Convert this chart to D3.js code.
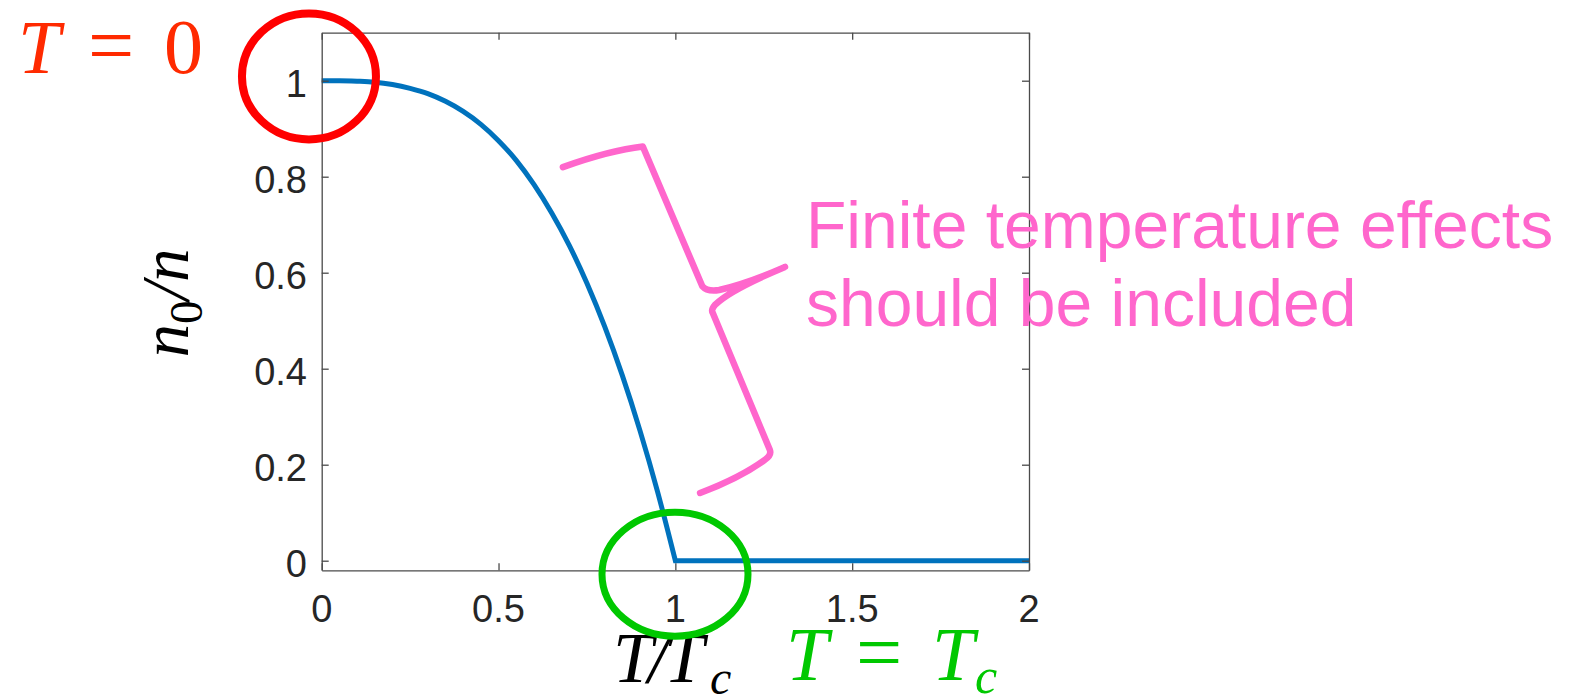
<!DOCTYPE html>
<html>
<head>
<meta charset="utf-8">
<script src="https://cdn.jsdelivr.net/npm/d3@7"></script>
<style>
  html, body { margin: 0; padding: 0; background: #fff; }
  svg { display: block; }
  .tick-label { font-family: "Liberation Sans", Arial, Helvetica, sans-serif; font-size: 38px; fill: #262626; }
  .math { font-family: "Liberation Serif", "Times New Roman", serif; font-style: italic; }
  .upright { font-family: "Liberation Serif", "Times New Roman", serif; font-style: normal; }
</style>
</head>
<body>
<svg id="chart" width="1571" height="698"></svg>
<script>
// Condensate fraction n0/n versus reduced temperature T/Tc
const temperature = [0, 0.05, 0.1, 0.15, 0.2, 0.25, 0.3, 0.35, 0.4, 0.45, 0.5,
                     0.55, 0.6, 0.65, 0.7, 0.75, 0.8, 0.85, 0.9, 0.95, 1.0, 1.5, 2.0];
const fraction    = [1.000, 1.000, 0.999, 0.997, 0.992, 0.984, 0.973, 0.957, 0.936, 0.909, 0.875,
                     0.834, 0.784, 0.725, 0.657, 0.578, 0.488, 0.386, 0.271, 0.143, 0.000, 0.000, 0.000];

const xTicks = [0, 0.5, 1, 1.5, 2];
const xTickLabels = ["0", "0.5", "1", "1.5", "2"];
const yTicks = [0, 0.2, 0.4, 0.6, 0.8, 1];
const yTickLabels = ["0", "0.2", "0.4", "0.6", "0.8", "1"];

// Brace annotation (data coordinates): M, Q, L commands
const braceX = [0.682, 0.815, 0.908, 1.076, 1.09, 1.124, 1.209, 1.310, 1.154, 1.112, 1.100, 1.106, 1.267, 1.273, 1.253, 1.182, 1.070];
const braceY = [0.820, 0.855, 0.863, 0.572, 0.560, 0.564, 0.579, 0.612, 0.564, 0.533, 0.522, 0.516, 0.231, 0.220, 0.210, 0.172, 0.141];
const braceCmd = ["M", "Q", "", "L", "Q", "", "Q", "", "Q", "", "Q", "", "L", "Q", "", "Q", ""];

const svg = d3.select("#chart");

const x = d3.scaleLinear().domain([0, 2]).range([321.7, 1029]);
const y = d3.scaleLinear().domain([-0.02, 1.1]).range([570.3, 32.7]);

const axisColor = "#4a4a4a";
const tickLen = 7;

// Data line: smooth below the transition, straight segments above it
const pts = temperature.map((t, i) => [t, fraction[i]]);
const below = pts.filter(p => p[0] <= 1);
const above = pts.filter(p => p[0] >= 1);
const smooth = d3.line().x(p => x(p[0])).y(p => y(p[1])).curve(d3.curveMonotoneX);
const straight = d3.line().x(p => x(p[0])).y(p => y(p[1]));
const linePath = smooth(below) + straight(above).replace(/^M/, "L");
svg.append("path")
  .attr("d", linePath)
  .attr("fill", "none")
  .attr("stroke", "#0072BD")
  .attr("stroke-width", 5)
  .attr("stroke-linejoin", "miter");

// Axes box with inward ticks on all four sides
const axisBottomG = svg.append("g").attr("transform", `translate(0,${y(-0.02)})`)
  .call(d3.axisBottom(x).tickValues(xTicks).tickSizeInner(-tickLen).tickSizeOuter(0).tickFormat(""));
const axisTopG = svg.append("g").attr("transform", `translate(0,${y(1.1)})`)
  .call(d3.axisTop(x).tickValues(xTicks).tickSizeInner(-tickLen).tickSizeOuter(0).tickFormat(""));
const axisLeftG = svg.append("g").attr("transform", `translate(${x(0)},0)`)
  .call(d3.axisLeft(y).tickValues(yTicks).tickSizeInner(-tickLen).tickSizeOuter(0).tickFormat(""));
const axisRightG = svg.append("g").attr("transform", `translate(${x(2)},0)`)
  .call(d3.axisRight(y).tickValues(yTicks).tickSizeInner(-tickLen).tickSizeOuter(0).tickFormat(""));
[axisBottomG, axisTopG, axisLeftG, axisRightG].forEach(g => {
  g.selectAll("path.domain").attr("stroke", axisColor).attr("stroke-width", 1.3);
  g.selectAll(".tick line").attr("stroke", axisColor).attr("stroke-width", 1.3);
});

// Tick labels
svg.append("g").selectAll("text").data(xTicks).join("text")
  .attr("class", "tick-label")
  .attr("x", v => x(v))
  .attr("y", 622)
  .attr("text-anchor", "middle")
  .text((v, i) => xTickLabels[i]);

svg.append("g").selectAll("text").data(yTicks).join("text")
  .attr("class", "tick-label")
  .attr("x", 307)
  .attr("y", v => y(v) + 16)
  .attr("text-anchor", "end")
  .text((v, i) => yTickLabels[i]);

// Y axis label: n_0 / n
const ylab = svg.append("text")
  .attr("class", "math")
  .attr("transform", "translate(188,303) rotate(-90)")
  .attr("text-anchor", "middle")
  .attr("font-size", 67)
  .attr("fill", "#000");
ylab.append("tspan").text("n");
ylab.append("tspan").attr("class", "upright").attr("font-size", 47).attr("dy", 14).text("0");
ylab.append("tspan").attr("dy", -14).text("/n");

// X axis label: T/T_c
const xlab = svg.append("g").attr("class", "math").attr("fill", "#000");
xlab.append("text").attr("x", 613).attr("y", 682).attr("font-size", 72).text("T");
xlab.append("text").attr("x", 648).attr("y", 682).attr("font-size", 72).text("/");
xlab.append("text").attr("x", 664).attr("y", 682).attr("font-size", 72).text("T");
xlab.append("text").attr("x", 710).attr("y", 694).attr("font-size", 48).text("c");

// Annotation "T = 0" in red
const t0 = svg.append("g").attr("fill", "#ff2a00");
t0.append("text").attr("class", "math").attr("x", 18).attr("y", 73).attr("font-size", 76).text("T");
t0.append("text").attr("class", "upright").attr("x", 88).attr("y", 73).attr("font-size", 82).text("=");
t0.append("text").attr("class", "upright").attr("x", 164).attr("y", 73).attr("font-size", 78).text("0");

// Annotation "T = T_c" in green
const tc = svg.append("g").attr("fill", "#00c800");
tc.append("text").attr("class", "math").attr("x", 786).attr("y", 680).attr("font-size", 76).text("T");
tc.append("text").attr("class", "upright").attr("x", 856).attr("y", 680).attr("font-size", 82).text("=");
tc.append("text").attr("class", "math").attr("x", 932).attr("y", 680).attr("font-size", 76).text("T");
tc.append("text").attr("class", "math").attr("x", 975).attr("y", 693).attr("font-size", 50).text("c");

// Circles marking T = 0 and T = Tc
svg.append("ellipse")
  .attr("cx", x(-0.036)).attr("cy", y(1.009))
  .attr("rx", 67).attr("ry", 63)
  .attr("fill", "none").attr("stroke", "#ff0000").attr("stroke-width", 8);
svg.append("ellipse")
  .attr("cx", x(0.999)).attr("cy", y(-0.028))
  .attr("rx", 73).attr("ry", 62)
  .attr("fill", "none").attr("stroke", "#00c800").attr("stroke-width", 7);

// Brace pointing at the finite-temperature region
let braceD = "";
braceCmd.forEach((c, i) => {
  braceD += (c ? " " + c : "") + " " + x(braceX[i]).toFixed(1) + "," + y(braceY[i]).toFixed(1);
});
svg.append("path")
  .attr("d", braceD.trim())
  .attr("fill", "none")
  .attr("stroke", "#ff66cc")
  .attr("stroke-width", 6.5)
  .attr("stroke-linecap", "round")
  .attr("stroke-linejoin", "round");

// Annotation text
const note = svg.append("text")
  .attr("font-family", "'Liberation Sans', Arial, Helvetica, sans-serif")
  .attr("font-size", 66)
  .attr("fill", "#ff66cc");
note.append("tspan").attr("x", 806).attr("y", 248).text("Finite temperature effects");
note.append("tspan").attr("x", 806).attr("y", 326).text("should be included");
</script>
</body>
</html>
